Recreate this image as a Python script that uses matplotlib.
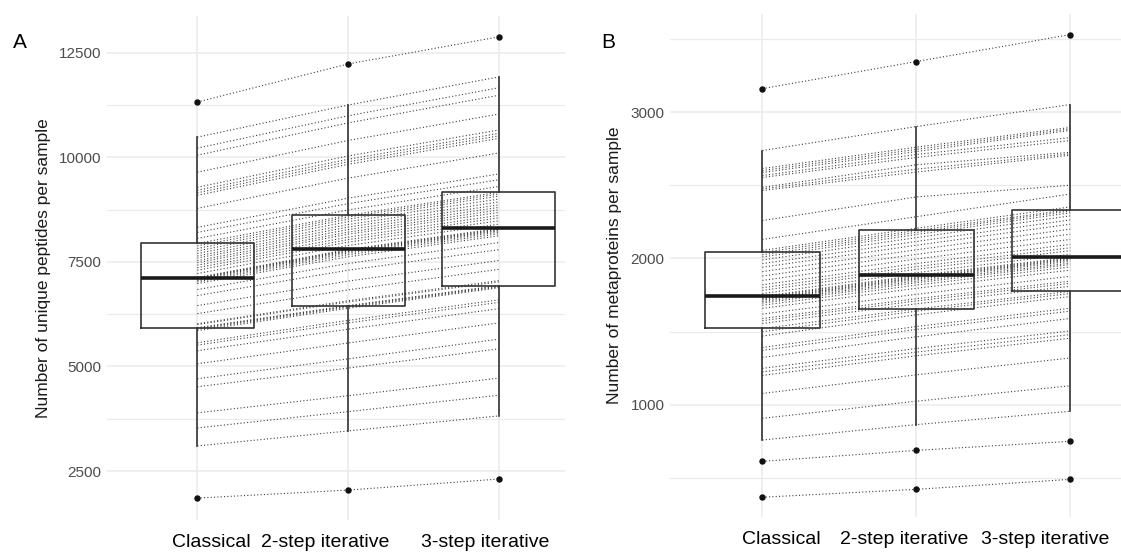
import matplotlib.pyplot as plt
from matplotlib.ticker import MultipleLocator

plt.rcParams['font.family'] = ['Liberation Sans', 'DejaVu Sans']

# categories on the x axis
methods = ['Classical', '2-step iterative', '3-step iterative']

# A: unique peptides per sample (one entry per sample, same order in each list)
pep_classical = [1853, 3100, 3530, 3890, 4513, 4705, 5064, 5376, 5510, 5567,
                 5855, 5890, 5910, 5927, 6000, 6020, 6262, 6454, 6694, 6837,
                 6980, 7020, 7050, 7080, 7100, 7112, 7125, 7220, 7300, 7360,
                 7420, 7480, 7530, 7590, 7640, 7700, 7760, 7820, 7880, 7940,
                 8060, 8203, 8323, 8778, 9090, 9150, 9210, 9282, 9641, 10048,
                 10216, 10480, 11319]
pep_2step = [2045, 3458, 3920, 4300, 4960, 5180, 5560, 5890, 6040, 6100,
             6390, 6420, 6440, 6454, 6540, 6570, 6830, 7040, 7300, 7460,
             7620, 7670, 7710, 7740, 7760, 7780, 7796, 7890, 7970, 8030,
             8090, 8160, 8210, 8270, 8330, 8390, 8460, 8520, 8570, 8611,
             8740, 8890, 9020, 9500, 9830, 9890, 9950, 10030, 10400, 10820,
             10990, 11247, 12229]
pep_3step = [2308, 3818, 4310, 4720, 5420, 5650, 6040, 6380, 6530, 6590,
             6880, 6900, 6920, 6933, 7020, 7050, 7320, 7530, 7790, 7960,
             8120, 8170, 8210, 8240, 8260, 8280, 8299, 8400, 8480, 8550,
             8610, 8680, 8740, 8800, 8860, 8930, 9000, 9070, 9120, 9162,
             9300, 9460, 9600, 10100, 10450, 10510, 10570, 10650, 11030, 11480,
             11660, 11918, 12876]

# B: metaproteins per sample
prot_classical = [369, 614, 760, 908, 1078, 1201, 1225, 1249, 1324, 1372,
                  1392, 1470, 1500, 1522, 1556, 1575, 1590, 1620, 1659, 1680,
                  1695, 1705, 1715, 1722, 1727, 1735, 1741, 1760, 1782, 1800,
                  1820, 1850, 1880, 1910, 1940, 1965, 1990, 2010, 2025, 2041,
                  2055, 2130, 2259, 2464, 2475, 2485, 2553, 2566, 2587, 2600,
                  2614, 2737, 3160]
prot_2step = [423, 689, 865, 1025, 1205, 1335, 1360, 1385, 1465, 1515,
              1535, 1615, 1640, 1655, 1690, 1710, 1725, 1755, 1796, 1818,
              1834, 1845, 1856, 1864, 1869, 1877, 1884, 1903, 1926, 1944,
              1965, 1996, 2028, 2059, 2090, 2116, 2142, 2163, 2178, 2191,
              2206, 2285, 2420, 2590, 2610, 2640, 2690, 2710, 2730, 2745,
              2760, 2901, 3345]
prot_3step = [491, 751, 956, 1130, 1320, 1455, 1480, 1505, 1590, 1640,
              1660, 1740, 1760, 1775, 1810, 1830, 1845, 1878, 1920, 1942,
              1958, 1968, 1980, 1989, 1995, 2001, 2007, 2028, 2053, 2073,
              2096, 2130, 2166, 2200, 2234, 2263, 2291, 2312, 2325, 2334,
              2352, 2440, 2500, 2705, 2715, 2725, 2805, 2825, 2875, 2885,
              2895, 3051, 3529]

GRID = '#ebebeb'


def draw_panel(ax, cols, ylabel, ylim, xlim, major, minor, label_x):
    pos = list(range(len(cols)))
    # paired samples, one dotted line each
    for sample in zip(*cols):
        ax.plot(pos, sample, linestyle=(0, (1, 2)), color='#3c3c3c',
                linewidth=0.8, zorder=2)
    ax.boxplot(cols, positions=pos, widths=0.75, whis=1.5, showcaps=False,
               boxprops=dict(color='#333333', linewidth=1.2),
               whiskerprops=dict(color='#333333', linewidth=1.2),
               medianprops=dict(color='#1a1a1a', linewidth=2.6),
               flierprops=dict(marker='o', markerfacecolor='#111111',
                               markeredgecolor='#111111', markersize=3.6),
               zorder=3)
    ax.set_xlim(*xlim)
    ax.set_ylim(*ylim)
    ax.set_xticks(pos)
    ax.set_xticklabels([''] * len(pos))
    # category names sit slightly off the grid lines, as in the source figure
    for name, lx in zip(methods, label_x):
        ax.text(lx, -0.045, name, transform=ax.get_xaxis_transform(),
                ha='center', va='center', fontsize=14, color='black')
    ax.yaxis.set_major_locator(MultipleLocator(major))
    ax.yaxis.set_minor_locator(MultipleLocator(minor))
    ax.grid(axis='y', which='major', color=GRID, linewidth=1.1, zorder=0)
    ax.grid(axis='y', which='minor', color=GRID, linewidth=0.9, zorder=0)
    ax.grid(axis='x', which='major', color=GRID, linewidth=1.1, zorder=0)
    ax.set_axisbelow(True)
    ax.tick_params(axis='both', which='both', length=0)
    ax.tick_params(axis='y', labelsize=11, labelcolor='#4d4d4d', pad=4)
    for s in ax.spines.values():
        s.set_visible(False)
    ax.set_ylabel(ylabel, fontsize=12.5, color='#1a1a1a', labelpad=6)


fig = plt.figure(figsize=(11.21, 5.54), dpi=100)

axA = fig.add_axes([0.0954, 0.0614, 0.4086, 0.9097])
draw_panel(axA, [pep_classical, pep_2step, pep_3step],
           'Number of unique peptides per sample',
           (1330, 13375), (-0.6, 2.44), 2500, 1250,
           [0.09, 0.85, 1.91])

axB = fig.add_axes([0.5977, 0.0668, 0.4023, 0.908])
draw_panel(axB, [prot_classical, prot_2step, prot_3step],
           'Number of metaproteins per sample',
           (234, 3670), (-0.6, 2.33), 1000, 500,
           [0.12, 0.92, 1.84])

fig.text(20 / 1121, 1 - 42 / 554, 'A', fontsize=15, ha='center', va='center')
fig.text(608 / 1121, 1 - 42 / 554, 'B', fontsize=15, ha='center', va='center')

fig.savefig('out.png', dpi=100, facecolor='white')
